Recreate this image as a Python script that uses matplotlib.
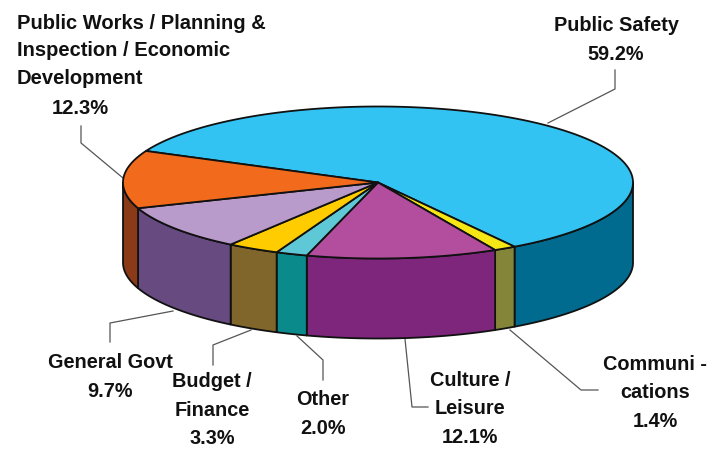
import numpy as np
import matplotlib
matplotlib.use('Agg')
import matplotlib.pyplot as plt

# clockwise from the left edge of Public Safety
names = ['Public Safety', 'Communi -', 'Culture', 'Other', 'Budget', 'General Govt', 'Public Works']
shares = [59.2, 1.4, 12.1, 2.0, 3.3, 9.7, 12.3]
top_colors = ['#33C3F3', '#F5E616', '#B34E9E', '#5FC8D6', '#FFCC00', '#B89ACB', '#F26A1B']
side_colors = ['#006B8E', '#85853A', '#7D267C', '#0B8A8C', '#80662A', '#664A80', '#8A3A17']

labels = ['Public Safety\n59.2%', 'Communi -\ncations\n1.4%', 'Culture /\nLeisure\n12.1%',
          'Other\n2.0%', 'Budget /\nFinance\n3.3%', 'General Govt\n9.7%']
label_x = [616, 655, 470, 323, 212, 110]
label_y = [40, 393, 409, 414, 410, 377]

leaders = [
    [(615, 70), (615, 89), (548, 123)],
    [(510, 330), (581, 390), (598, 390)],
    [(405, 339), (412, 407), (428, 407)],
    [(297, 336), (323, 360), (323, 380)],
    [(251, 330), (213, 345), (213, 365)],
    [(173, 311), (110, 323), (110, 342)],
    [(81, 126), (81, 143), (123, 178)],
]

cx, cy = 378, 182.5
rx, ry = 255, 76
depth = 80
start_angle = 155.5

plt.rcParams['font.family'] = ['Liberation Sans', 'DejaVu Sans']

fig = plt.figure(figsize=(7.2, 4.49), dpi=100)
ax = fig.add_axes([0, 0, 1, 1])
ax.set_xlim(0, 720)
ax.set_ylim(449, 0)
ax.axis('off')


def rim(a0, a1):
    t = np.radians(np.linspace(a0, a1, 200))
    return cx + rx * np.cos(t), cy - ry * np.sin(t)


edges = start_angle - np.cumsum([0] + shares) * 3.6

# side walls first, only the front half shows
for i in range(len(shares)):
    a0, a1 = edges[i], edges[i + 1]
    # bring into -180..180 so the front half is a simple range
    while a1 < -180:
        a0 += 360
        a1 += 360
    lo, hi = max(a1, -180), min(a0, 0)
    if lo >= hi:
        # wall of the slice that wraps past 180 on the left
        lo, hi = max(a1 - 360, -180), min(a0 - 360, 0)
        if lo >= hi:
            continue
    x, y = rim(hi, lo)
    ax.fill(np.r_[x, x[::-1]], np.r_[y, y[::-1] + depth], fc=side_colors[i],
            ec='#111111', lw=1.3, joinstyle='round', zorder=2)

# top faces
for i in range(len(shares)):
    x, y = rim(edges[i], edges[i + 1])
    ax.fill(np.r_[cx, x], np.r_[cy, y], fc=top_colors[i], ec='#111111', lw=1.3,
            joinstyle='round', zorder=3)

for pts in leaders:
    xs, ys = zip(*pts)
    ax.plot(xs, ys, color='#555555', lw=0.9, zorder=1)

for txt, x, y in zip(labels, label_x, label_y):
    ax.text(x, y, txt, ha='center', va='center', fontsize=14.3, fontweight='bold',
            color='#111111', linespacing=1.63)

ax.text(17, 51, 'Public Works / Planning &\nInspection / Economic\nDevelopment', ha='left',
        va='center', fontsize=14.5, fontweight='bold', color='#111111', linespacing=1.58)
ax.text(80, 108, '12.3%', ha='center', va='center', fontsize=14.5, fontweight='bold',
        color='#111111')

fig.savefig('out.png', dpi=100)
